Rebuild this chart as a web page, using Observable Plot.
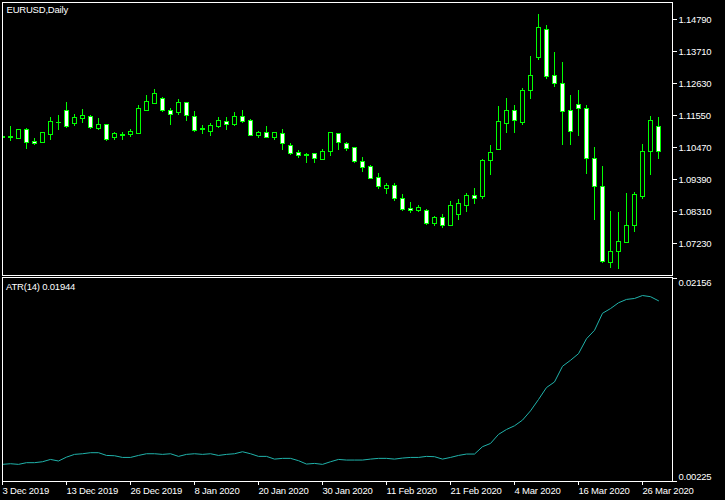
<!DOCTYPE html>
<html><head><meta charset="utf-8">
<script src="https://cdn.jsdelivr.net/npm/d3@7"></script>
<script src="https://cdn.jsdelivr.net/npm/@observablehq/plot@0.6"></script>
<style>
html,body{margin:0;padding:0;background:#000;}
#chart{width:725px;height:500px;overflow:hidden;background:#000;}
#chart svg{display:block;}
#chart svg rect, #chart svg line{shape-rendering:crispEdges;}
</style></head><body><div id="chart"></div>
<script>
const symbolTitle = "EURUSD,Daily";
const atrTitle = "ATR(14) 0.01944";

const open = [1.10797,1.10786,1.10763,1.11044,1.10639,1.10628,1.10898,1.11281,1.11686,1.11269,
 1.11416,1.11494,1.11101,1.11224,1.10774,1.10853,1.10898,1.10932,1.11708,1.11944,
 1.12102,1.11697,1.11641,1.11967,1.11494,1.11056,1.10999,1.11168,1.11314,1.11236,
 1.11483,1.11348,1.10864,1.10943,1.10797,1.10909,1.10516,1.10279,1.10189,1.10246,
 1.10054,1.10302,1.10909,1.10583,1.10448,1.09976,1.09807,1.09436,1.09076,1.09166,
 1.08727,1.08389,1.08333,1.08322,1.07894,1.08074,1.07827,1.08198,1.08502,1.08817,
 1.08806,1.10021,1.10392,1.11269,1.11686,1.11303,1.12361,1.13474,1.14419,1.12867,
 1.12597,1.11686,1.11888,1.11764,1.10066,1.09121,1.06578,1.06927,1.07231,1.07804,
 1.08806,1.10302,1.11146];
const high = [1.10842,1.11191,1.11078,1.11112,1.10786,1.10977,1.11472,1.11562,1.12001,1.11596,
 1.11764,1.11562,1.11461,1.11258,1.10988,1.10966,1.11078,1.11888,1.12237,1.12417,
 1.12158,1.11787,1.12079,1.12001,1.11697,1.11213,1.11292,1.11494,1.11472,1.11663,
 1.11731,1.11427,1.11022,1.11191,1.10988,1.11089,1.10617,1.10381,1.10279,1.10279,
 1.10414,1.10954,1.10954,1.10651,1.10482,1.10144,1.09874,1.09604,1.09267,1.09267,
 1.08896,1.08626,1.08524,1.08389,1.08131,1.08221,1.08659,1.08727,1.08929,1.09098,
 1.10066,1.10549,1.11866,1.12136,1.11888,1.12473,1.13553,1.14971,1.14599,1.13688,
 1.13351,1.12237,1.12383,1.11888,1.10482,1.09841,1.08322,1.08288,1.08907,1.08963,
 1.10583,1.11506,1.11472];
const low = [1.10752,1.10662,1.10752,1.10392,1.10527,1.10617,1.10696,1.11033,1.11101,1.11191,
 1.11269,1.11089,1.11056,1.10662,1.10696,1.10696,1.10797,1.10920,1.11697,1.11944,
 1.11641,1.11224,1.11562,1.11337,1.10988,1.10898,1.10831,1.11101,1.11033,1.11168,
 1.11269,1.10842,1.10763,1.10786,1.10696,1.10358,1.10189,1.10088,1.09942,1.09919,
 1.10043,1.10156,1.10358,1.10324,1.09919,1.09638,1.09402,1.09064,1.08896,1.08637,
 1.08322,1.08254,1.08266,1.07849,1.07816,1.07748,1.07816,1.08018,1.08288,1.08536,
 1.08727,1.09514,1.10358,1.10932,1.10932,1.11224,1.12102,1.13396,1.12754,1.12484,
 1.10527,1.10527,1.10831,1.09548,1.07996,1.06544,1.06387,1.06353,1.07219,1.07602,
 1.08704,1.09514,1.10077];
const close = [1.10808,1.10808,1.11056,1.10606,1.10572,1.10943,1.11314,1.11303,1.11168,1.11461,
 1.11528,1.11134,1.11213,1.10729,1.10920,1.10876,1.10988,1.11764,1.12001,1.12271,
 1.11708,1.11551,1.11967,1.11517,1.11022,1.11078,1.11191,1.11359,1.11236,1.11494,
 1.11337,1.10864,1.10966,1.10797,1.10954,1.10572,1.10257,1.10189,1.10212,1.10088,
 1.10313,1.10943,1.10606,1.10426,1.09987,1.09784,1.09413,1.09121,1.09166,1.08738,
 1.08367,1.08311,1.08423,1.07894,1.08086,1.07827,1.08491,1.08558,1.08817,1.08738,
 1.09998,1.10268,1.11314,1.11686,1.11348,1.12361,1.12867,1.14487,1.12833,1.12597,
 1.11652,1.10977,1.11753,1.10066,1.09121,1.06612,1.06927,1.07264,1.07804,1.08851,
 1.10302,1.11348,1.10302];
const atr = [0.00388,0.00394,0.00388,0.00404,0.00404,0.00413,0.00435,0.00420,0.00457,0.00483,
 0.00489,0.00499,0.00499,0.00473,0.00470,0.00454,0.00454,0.00473,0.00489,0.00489,
 0.00483,0.00489,0.00464,0.00483,0.00489,0.00483,0.00489,0.00473,0.00483,0.00489,
 0.00508,0.00489,0.00464,0.00464,0.00438,0.00445,0.00445,0.00423,0.00391,0.00397,
 0.00388,0.00413,0.00435,0.00429,0.00429,0.00429,0.00438,0.00445,0.00445,0.00438,
 0.00448,0.00454,0.00454,0.00464,0.00461,0.00438,0.00454,0.00473,0.00486,0.00486,
 0.00556,0.00587,0.00673,0.00720,0.00755,0.00809,0.00897,0.01005,0.01119,0.01172,
 0.01321,0.01378,0.01441,0.01583,0.01663,0.01825,0.01870,0.01925,0.01957,0.01966,
 0.01994,0.01983,0.01944];

const priceTicks = [1.14790,1.13710,1.12630,1.11550,1.10470,1.09390,1.08310,1.07230];
const atrTopTick = [0.02156];
const atrBottomTick = [0.00225];
const dateTickBars = [0,8,16,24,32,40,48,56,64,72,80];
const dateTickLabels = ["3 Dec 2019","13 Dec 2019","26 Dec 2019","8 Jan 2020","20 Jan 2020","30 Jan 2020","11 Feb 2020","21 Feb 2020","4 Mar 2020","16 Mar 2020","26 Mar 2020"];

const bars = open.map((o, i) => ({i, o, h: high[i], l: low[i], c: close[i], up: close[i] >= o}));
const atrRows = atr.map((v, i) => ({i, v}));

const baseStyle = {background:"#000", color:"#fff", fontFamily:"'Liberation Sans', Arial, sans-serif", fontSize:"9.5px", letterSpacing:"-0.2px"};
const xDomain = [0, 83.75];
const GREEN = "#00ff00";

const main = Plot.plot({
  width: 725, height: 276,
  marginTop: 2, marginBottom: 1, marginLeft: 2, marginRight: 53,
  style: baseStyle,
  x: {domain: xDomain, axis: null, label: null},
  y: {domain: [1.06150, 1.1536375], axis: null, label: null},
  marks: [
    Plot.ruleX(bars, {x: "i", y1: "l", y2: "h", stroke: GREEN, strokeWidth: 1, clip: true}),
    Plot.rect(bars, {x1: d => d.i - 0.25, x2: d => d.i + 0.25, y1: "o", y2: "c", stroke: GREEN, strokeWidth: 1, fill: d => d.up ? "#000000" : "#ffffff", clip: true}),
    Plot.frame({stroke: "#fff"}),
    Plot.axisY(priceTicks, {anchor: "right", tickSize: 4, tickPadding: 2, tickFormat: d => d.toFixed(5), label: null}),
    Plot.text([symbolTitle], {frameAnchor: "top-left", textAnchor: "start", lineAnchor: "top", dx: 4, dy: 3.5, fill: "#fff"})
  ]
});

const sub = Plot.plot({
  width: 725, height: 224,
  marginTop: 1, marginBottom: 19, marginLeft: 2, marginRight: 53,
  style: baseStyle,
  x: {domain: xDomain, label: null},
  y: {domain: [0.00225, 0.021655], axis: null, label: null},
  marks: [
    Plot.line(atrRows, {x: "i", y: "v", stroke: "#20b2aa", strokeWidth: 1, clip: true}),
    Plot.frame({stroke: "#fff"}),
    Plot.axisY(atrTopTick.concat(atrBottomTick), {anchor: "right", tickSize: 4, fill: "none", label: null}),
    Plot.text(atrTopTick, {y: d => d, frameAnchor: "right", textAnchor: "start", dx: 6, dy: 4.7, text: d => d.toFixed(5), fill: "#fff"}),
    Plot.text(atrBottomTick, {y: d => d, frameAnchor: "right", textAnchor: "start", dx: 6, dy: -4.7, text: d => d.toFixed(5), fill: "#fff"}),
    Plot.axisX(dateTickBars, {anchor: "bottom", tickSize: 4, tickPadding: 2, textAnchor: "start", label: null,
      tickFormat: d => dateTickLabels[dateTickBars.indexOf(d)]}),
    Plot.text([atrTitle], {frameAnchor: "top-left", textAnchor: "start", lineAnchor: "top", dx: 3.5, dy: 6, fill: "#fff"})
  ]
});

document.getElementById("chart").append(main, sub);
</script>
</body></html>
